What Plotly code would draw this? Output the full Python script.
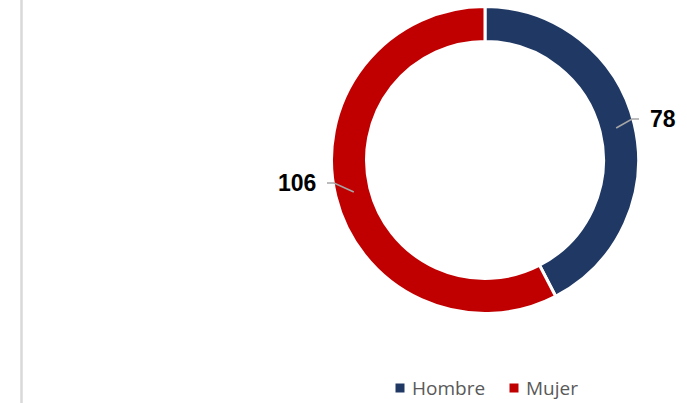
import math
import plotly.graph_objects as go

# Data
categories = ["Hombre", "Mujer"]
values = [78, 106]
colors = ["#1F3864", "#C00000"]

W, H = 687, 403
cx, cy = 485, 160          # donut centre (px)
R_OUT, R_IN = 153.5, 118.5 # outer / inner radius (px)

fig = go.Figure()

# Donut, positioned via its domain in paper coordinates
fig.add_trace(go.Pie(
    labels=categories,
    values=values,
    hole=R_IN / R_OUT,
    sort=False,
    direction="clockwise",
    rotation=0,
    marker=dict(colors=colors, line=dict(color="white", width=3)),
    textinfo="none",
    hoverinfo="label+value",
    showlegend=False,
    domain=dict(x=[(cx - R_OUT) / W, (cx + R_OUT) / W],
                y=[(H - cy - R_OUT) / H, (H - cy + R_OUT) / H]),
))

# Leader lines and value labels, computed from each slice's mid angle
total = sum(values)
label_pos = {"Hombre": (648, 119, "left"), "Mujer": (318, 183, "right")}
shapes = [dict(type="line", xref="paper", yref="paper",
               x0=21.5 / W, x1=21.5 / W, y0=0, y1=1,
               line=dict(color="#D9D9D9", width=2.5))]
start = 0.0
r_mid = 135
for cat, v in zip(categories, values):
    mid = (start + v / 2) / total * 2 * math.pi
    start += v
    x0 = cx + r_mid * math.sin(mid)
    y0 = cy - r_mid * math.cos(mid)
    lx, ly, side = label_pos[cat]
    sgn = 1 if side == "left" else -1
    xe = lx - sgn * 16
    xt = lx - sgn * 9
    shapes.append(dict(
        type="path", xref="x", yref="y", layer="above",
        path=f"M{x0:.1f},{y0:.1f} L{xe},{ly} L{xt},{ly}",
        line=dict(color="#A6A6A6", width=1.6),
    ))
    fig.add_annotation(
        x=lx, y=ly, xref="x", yref="y", text=f"<b>{v}</b>",
        showarrow=False, xanchor=side, yanchor="middle",
        font=dict(family="Liberation Sans", size=23, color="#000000"),
    )

# Legend: square swatches followed by category names
legend_y = 388
legend_x = [400, 514]
fig.add_trace(go.Scatter(
    x=legend_x, y=[legend_y] * len(categories), mode="markers",
    marker=dict(symbol="square", size=9, color=colors),
    hoverinfo="skip", showlegend=False,
))
for lxp, cat in zip(legend_x, categories):
    fig.add_annotation(
        x=lxp + 10, y=legend_y, xref="x", yref="y", text=cat,
        showarrow=False, xanchor="left", yanchor="middle",
        font=dict(family="Open Sans", size=19, color="#595959"),
    )

fig.update_layout(
    width=W, height=H,
    margin=dict(l=0, r=0, t=0, b=0),
    paper_bgcolor="white", plot_bgcolor="rgba(0,0,0,0)",
    xaxis=dict(range=[0, W], visible=False, domain=[0, 1], fixedrange=True),
    yaxis=dict(range=[H, 0], visible=False, domain=[0, 1], fixedrange=True),
    showlegend=False,
    shapes=shapes,
)

fig.write_html("out.html")
